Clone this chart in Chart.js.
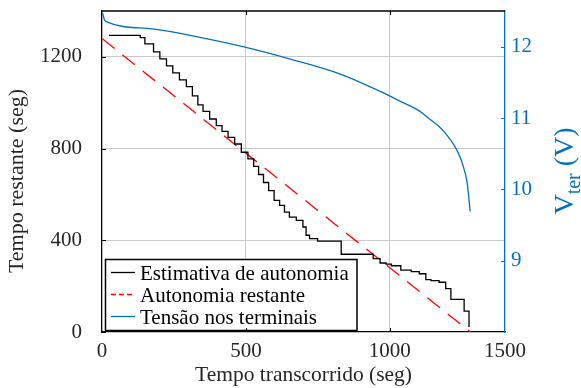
<!DOCTYPE html>
<html>
<head>
<meta charset="utf-8">
<script src="https://cdn.jsdelivr.net/npm/chart.js@4/dist/chart.umd.min.js"></script>
<style>
  html, body { margin: 0; padding: 0; background: #fff; }
</style>
</head>
<body>
<canvas id="batteryChart" width="581" height="388"></canvas>
<script>
// Battery discharge: remaining-time estimate against the terminal voltage

// --- data ---

// time axis ticks (the last label sits on the right edge of the frame)
const xTickValues = [0, 500, 1000, 1400];
const xTickLabels = ['0', '500', '1000', '1500'];
const leftTickValues = [0, 400, 800, 1200];
const rightTickValues = [9, 10, 11, 12];

// stepped estimate of remaining time (seg); each point starts a new level
const estimateTime = [24, 133, 149, 179, 201, 224, 246, 269, 293, 314, 333,
  351, 374, 397, 417, 438, 461, 484, 507, 527, 544, 561, 579,
  598, 617, 634, 651, 675, 698, 709, 721, 749, 831,
  942, 966, 987, 1005, 1038, 1074, 1102, 1125, 1143, 1171, 1194, 1212, 1258, 1275];
const estimateSeconds = [1294, 1284, 1257, 1222, 1191, 1161, 1130, 1100, 1070, 1030, 991,
  962, 929, 900, 875, 849, 820, 784, 755, 722, 687, 652, 617,
  574, 552, 523, 501, 487, 458, 422, 407, 396, 339,
  320, 301, 296, 289, 270, 263, 254, 228, 224, 217, 189, 142, 91, 22];

// actual remaining autonomy: straight line from full to empty
const remainingTime = [0, 1280];
const remainingSeconds = [1280, 0];

// terminal voltage (V)
const voltageTime = [0, 5, 8, 14, 176, 340, 500, 651, 825, 963, 1033,
  1102, 1137, 1171, 1194, 1223, 1240, 1252, 1269, 1279];
const voltageValues = [12.48, 12.43, 12.38, 12.35, 12.25, 12.13, 11.99, 11.83, 11.62, 11.38, 11.24,
  11.10, 10.99, 10.88, 10.78, 10.62, 10.49, 10.36, 10.08, 9.69];

const legendLabels = ['Estimativa de autonomia', 'Autonomia restante', 'Tensão nos terminais'];

// --- styling ---
const FONT = "'Liberation Serif', 'Times New Roman', serif";
const TEXT = '#262626';
const BLUE = '#0072bd';
const RED = '#ff0000';
const GRID = '#c8c8c8';

function toPoints(xs, ys) {
  return xs.map((x, i) => ({ x: x, y: ys[i] }));
}

// grid only on the inner ticks
function gridColor(skip) {
  return function (ctx) {
    if (!ctx.tick || skip.includes(ctx.tick.value)) return 'rgba(0,0,0,0)';
    return GRID;
  };
}

// fixed axis boxes, no extra room reserved for overhanging labels
function fixBox(size) {
  return function (s) {
    if (s.isHorizontal()) s.height = size; else s.width = size;
    s.paddingTop = 0;
    s.paddingBottom = 0;
    s.paddingLeft = 0;
    s.paddingRight = 0;
  };
}

// box top edge, inward tick marks, y axis titles and legend
const framePlugin = {
  id: 'frame',
  afterDraw(chart) {
    const { ctx, chartArea: a, scales } = chart;
    const len = 4;
    ctx.save();
    ctx.lineWidth = 1.3;
    ctx.strokeStyle = '#000';
    ctx.beginPath();
    ctx.moveTo(a.left, a.top);
    ctx.lineTo(a.right, a.top);
    ctx.stroke();

    ctx.lineWidth = 1;
    ctx.beginPath();
    [500, 1000].forEach(v => {
      const px = Math.round(scales.x.getPixelForValue(v)) + 0.5;
      ctx.moveTo(px, a.bottom); ctx.lineTo(px, a.bottom - len);
      ctx.moveTo(px, a.top); ctx.lineTo(px, a.top + len);
    });
    leftTickValues.forEach(v => {
      const py = Math.round(scales.y.getPixelForValue(v)) + 0.5;
      ctx.moveTo(a.left, py); ctx.lineTo(a.left + len, py);
    });
    ctx.stroke();

    ctx.strokeStyle = BLUE;
    ctx.beginPath();
    rightTickValues.forEach(v => {
      const py = Math.round(scales.y1.getPixelForValue(v)) + 0.5;
      ctx.moveTo(a.right, py); ctx.lineTo(a.right - len, py);
    });
    ctx.stroke();

    // left axis title
    ctx.save();
    ctx.translate(17, 181);
    ctx.rotate(-Math.PI / 2);
    ctx.font = '22px ' + FONT;
    ctx.fillStyle = TEXT;
    ctx.textAlign = 'center';
    ctx.textBaseline = 'middle';
    ctx.fillText('Tempo restante (seg)', 0, 0);
    ctx.restore();

    // right axis title: V_ter (V)
    const big = '28px ' + FONT;
    const small = '20px ' + FONT;
    ctx.font = big;
    const wV = ctx.measureText('V').width;
    const wTail = ctx.measureText(' (V)').width;
    ctx.font = small;
    const wSub = ctx.measureText('ter').width;
    const total = wV + wSub + wTail;
    ctx.translate(573, 171);
    ctx.rotate(-Math.PI / 2);
    ctx.fillStyle = BLUE;
    ctx.textBaseline = 'alphabetic';
    ctx.textAlign = 'left';
    let x = -total / 2;
    ctx.font = big;
    ctx.fillText('V', x, 0);
    x += wV;
    ctx.font = small;
    ctx.fillText('ter', x, 7);
    x += wSub;
    ctx.font = big;
    ctx.fillText(' (V)', x, 0);
    ctx.restore();
  },
  afterDatasetsDraw(chart) {
    // legend box in the lower left corner of the plot
    const { ctx } = chart;
    const box = { x: 105.5, y: 259.5, w: 251.5, h: 71 };
    ctx.save();
    ctx.fillStyle = '#fff';
    ctx.fillRect(box.x, box.y, box.w, box.h);
    ctx.lineWidth = 1.5;
    ctx.strokeStyle = '#000';
    ctx.strokeRect(box.x, box.y, box.w, box.h);

    const rowBase = [280, 302, 324];
    const styles = [
      { color: '#000', dash: [] },
      { color: RED, dash: [5, 3] },
      { color: BLUE, dash: [] }
    ];
    ctx.font = '21px ' + FONT;
    ctx.textBaseline = 'alphabetic';
    legendLabels.forEach((label, i) => {
      const ly = rowBase[i] - 7.5;
      ctx.strokeStyle = styles[i].color;
      ctx.setLineDash(styles[i].dash);
      ctx.lineWidth = 1.3;
      ctx.beginPath();
      ctx.moveTo(111, ly);
      ctx.lineTo(135, ly);
      ctx.stroke();
      ctx.setLineDash([]);
      ctx.fillStyle = '#000';
      ctx.fillText(label, 140, rowBase[i]);
    });
    ctx.restore();
  }
};

const chart = new Chart(document.getElementById('batteryChart'), {
  type: 'line',
  data: {
    datasets: [
      {
        label: legendLabels[0],
        data: toPoints(estimateTime, estimateSeconds),
        borderColor: '#000',
        borderWidth: 1.3,
        stepped: true,
        pointRadius: 0,
        yAxisID: 'y'
      },
      {
        label: legendLabels[1],
        data: toPoints(remainingTime, remainingSeconds),
        borderColor: RED,
        borderWidth: 1.3,
        borderDash: [16, 10],
        pointRadius: 0,
        yAxisID: 'y'
      },
      {
        label: legendLabels[2],
        data: toPoints(voltageTime, voltageValues),
        borderColor: BLUE,
        borderWidth: 1.3,
        cubicInterpolationMode: 'monotone',
        pointRadius: 0,
        yAxisID: 'y1'
      }
    ]
  },
  options: {
    responsive: false,
    animation: false,
    devicePixelRatio: 1,
    layout: { padding: { top: 11, left: 0, right: 0, bottom: 0 } },
    plugins: {
      legend: { display: false },
      tooltip: { enabled: false }
    },
    scales: {
      x: {
        type: 'linear',
        min: 0,
        max: 1400,
        afterBuildTicks: s => { s.ticks = xTickValues.map(v => ({ value: v })); },
        afterFit: fixBox(56),
        ticks: {
          autoSkip: false,
          maxRotation: 0,
          padding: 7,
          color: TEXT,
          font: { family: FONT, size: 21 },
          callback: (v, i) => xTickLabels[i]
        },
        grid: { drawTicks: false, color: gridColor([0, 1400]), lineWidth: 1 },
        border: { color: '#000', width: 1.3 },
        title: {
          display: true,
          text: 'Tempo transcorrido (seg)',
          color: TEXT,
          font: { family: FONT, size: 21.5 },
          padding: { top: 0, bottom: 0 }
        }
      },
      y: {
        type: 'linear',
        position: 'left',
        min: 0,
        max: 1400,
        afterBuildTicks: s => { s.ticks = leftTickValues.map(v => ({ value: v })); },
        afterFit: fixBox(102),
        ticks: {
          padding: 20,
          color: TEXT,
          font: { family: FONT, size: 21 },
          callback: v => String(v)
        },
        grid: { drawTicks: false, color: gridColor([0]), lineWidth: 1 },
        border: { color: '#000', width: 1.3 }
      },
      y1: {
        type: 'linear',
        position: 'right',
        min: 8,
        max: 12.5,
        afterBuildTicks: s => { s.ticks = rightTickValues.map(v => ({ value: v })); },
        afterFit: fixBox(76),
        ticks: {
          padding: 6,
          color: BLUE,
          font: { family: FONT, size: 21 },
          callback: v => String(v)
        },
        grid: { drawOnChartArea: false, drawTicks: false },
        border: { color: BLUE, width: 1.3 }
      }
    }
  },
  plugins: [framePlugin]
});
</script>
</body>
</html>
